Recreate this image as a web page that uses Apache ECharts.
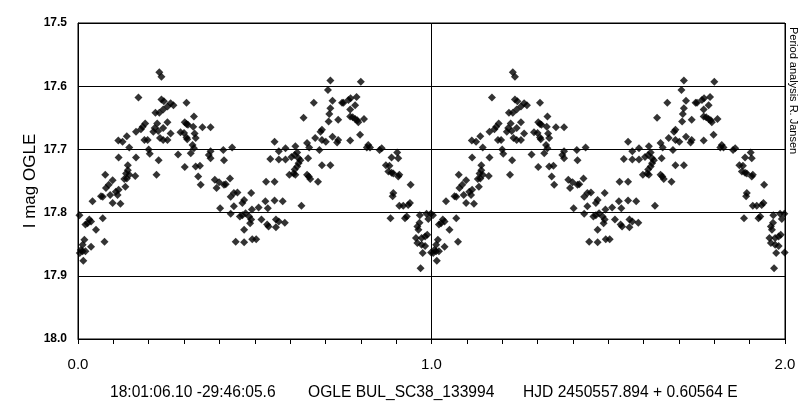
<!DOCTYPE html>
<html>
<head>
<meta charset="utf-8">
<script src="https://cdn.jsdelivr.net/npm/echarts@6/dist/echarts.min.js"></script>
<style>html,body{margin:0;padding:0;background:#fff}#c{width:812px;height:419px}</style>
</head>
<body>
<div id="c"></div>
<script>
// The reference plots the phase diagram twice (phase and phase + 1).
var phases = [
0.230,0.236,0.171,0.236,0.219,0.230,0.241,0.190,0.183,0.178,
0.164,0.224,0.217,0.213,0.227,0.241,0.138,0.114,0.126,0.241,
0.232,0.188,0.197,0.145,0.200,0.203,0.115,0.164,0.228,0.141,
0.141,0.136,0.145,0.138,0.131,0.162,0.077,0.222,0.098,0.087,
0.079,0.070,0.107,0.115,0.112,0.091,0.134,0.041,0.065,0.098,
0.120,0.004,0.032,0.027,0.021,0.037,0.070,0.051,0.075,0.018,
0.013,0.008,0.005,0.013,0.021,0.037,0.015,
0.243,0.253,0.262,0.270,0.307,0.253,0.328,0.302,0.307,0.311,
0.326,0.352,0.375,0.262,0.290,0.300,0.307,0.309,0.330,0.333,
0.253,0.324,0.328,0.283,0.319,0.375,0.370,0.375,0.411,0.436,
0.413,0.302,0.333,0.345,0.340,0.347,0.387,0.399,0.392,0.413,
0.418,0.430,0.402,0.432,0.441,0.451,0.465,0.470,0.441,0.490,
0.432,0.458,0.465,0.474,0.484,0.487,0.490,0.470,0.446,0.470,
0.493,
0.714,0.707,0.667,0.720,0.747,0.714,0.711,0.709,0.736,0.638,
0.686,0.690,0.671,0.690,0.701,0.720,0.736,0.733,0.556,0.568,
0.587,0.615,0.648,0.654,0.683,0.544,0.568,0.587,0.604,0.613,
0.620,0.624,0.629,0.624,0.620,0.613,0.610,0.598,0.615,0.651,
0.690,0.714,0.648,0.653,0.657,0.679,0.532,0.556,0.511,0.530,
0.537,0.556,0.579,0.632,0.492,0.519,0.535,0.539,0.560,0.568,
0.585,0.560,0.504,
0.800,0.751,0.765,0.771,0.788,0.784,0.770,0.770,0.777,0.784,
0.793,0.790,0.809,0.770,0.798,0.821,0.826,0.817,0.853,0.859,
0.903,0.906,0.887,0.871,0.881,0.878,0.887,0.892,0.909,0.906,
0.941,0.892,0.890,0.909,0.920,0.934,0.939,0.884,0.925,0.930,
0.967,0.986,0.998,0.991,0.966,0.960,0.963,0.956,0.972,0.982,
0.988,0.960,0.972,0.982,0.975,0.999,0.969
];
var mags = [
17.578,17.585,17.618,17.621,17.642,17.642,17.637,17.659,17.664,17.668,
17.672,17.659,17.666,17.672,17.671,17.666,17.679,17.686,17.688,17.685,
17.682,17.685,17.685,17.697,17.700,17.707,17.713,17.713,17.717,17.725,
17.733,17.738,17.740,17.746,17.747,17.742,17.740,17.740,17.749,17.756,
17.761,17.775,17.767,17.764,17.772,17.772,17.759,17.782,17.774,17.785,
17.786,17.804,17.811,17.817,17.819,17.814,17.809,17.827,17.846,17.843,
17.851,17.859,17.864,17.861,17.861,17.854,17.876,
17.624,17.632,17.627,17.630,17.626,17.657,17.648,17.657,17.660,17.661,
17.664,17.665,17.665,17.675,17.673,17.674,17.681,17.684,17.675,17.682,
17.685,17.693,17.698,17.708,17.706,17.703,17.709,17.714,17.701,17.697,
17.717,17.728,17.727,17.726,17.743,17.756,17.748,17.752,17.761,17.756,
17.755,17.746,17.793,17.775,17.769,17.768,17.785,17.780,17.790,17.769,
17.802,17.806,17.804,17.801,17.806,17.817,17.811,17.827,17.846,17.847,
17.842,
17.591,17.606,17.626,17.623,17.626,17.635,17.644,17.656,17.653,17.650,
17.672,17.669,17.682,17.685,17.688,17.680,17.685,17.689,17.688,17.703,
17.698,17.695,17.690,17.697,17.701,17.715,17.716,17.716,17.712,17.709,
17.705,17.714,17.717,17.722,17.727,17.732,17.738,17.740,17.740,17.714,
17.725,17.725,17.740,17.743,17.747,17.751,17.751,17.751,17.792,17.782,
17.793,17.781,17.782,17.789,17.795,17.811,17.819,17.822,17.811,17.814,
17.816,17.823,17.842,
17.593,17.626,17.622,17.619,17.617,17.630,17.637,17.648,17.649,17.652,
17.657,17.654,17.652,17.686,17.677,17.693,17.697,17.697,17.701,17.698,
17.705,17.714,17.713,17.725,17.726,17.735,17.737,17.738,17.740,17.743,
17.756,17.769,17.774,17.789,17.789,17.788,17.785,17.809,17.809,17.806,
17.804,17.802,17.802,17.810,17.816,17.822,17.827,17.840,17.840,17.838,
17.835,17.848,17.851,17.853,17.864,17.863,17.888
];
var cycles = [0, 1];
var xTickLabels = ['0.0', '1.0', '2.0'];
var yTickLabels = ['17.5', '17.6', '17.7', '17.8', '17.9', '18.0'];
var yTitle = 'I mag OGLE';
var sideNote = 'Period analysis R. Jansen';
var footer = ['18:01:06.10 -29:46:05.6', 'OGLE BUL_SC38_133994', 'HJD 2450557.894 + 0.60564 E'];

var pts = [];
cycles.forEach(function (c) {
  for (var i = 0; i < phases.length; i++) pts.push([phases[i] + c, mags[i]]);
});

var FONT = "'Liberation Sans', Arial, sans-serif";
var chart = echarts.init(document.getElementById('c'), null, {renderer: 'canvas'});
chart.setOption({
  animation: false,
  backgroundColor: '#fff',
  grid: {left: 78, right: 27, top: 23, bottom: 80, show: true, borderColor: '#000', borderWidth: 1, backgroundColor: 'transparent'},
  xAxis: {
    type: 'value', min: 0, max: 2, interval: 1,
    axisLine: {show: true, lineStyle: {color: '#000', width: 1}},
    axisTick: {show: true, length: 5, lineStyle: {color: '#000'}},
    minorTick: {show: true, splitNumber: 10, length: 5, lineStyle: {color: '#000'}},
    splitLine: {show: true, lineStyle: {color: '#000', width: 1}},
    axisLabel: {color: '#000', fontSize: 15, fontFamily: FONT, margin: 18,
      formatter: function (v) { return xTickLabels[Math.round(v)]; }}
  },
  yAxis: {
    type: 'value', inverse: true, min: 17.5, max: 18.0, interval: 0.1,
    axisLine: {show: true, lineStyle: {color: '#000', width: 1}},
    axisTick: {show: false},
    splitLine: {show: true, lineStyle: {color: '#000', width: 1}},
    axisLabel: {color: '#000', fontSize: 12, fontWeight: 'bold', fontFamily: FONT, margin: 11,
      formatter: function (v) { return yTickLabels[Math.round((v - 17.5) * 10)]; }}
  },
  graphic: [
    {type: 'text', x: 30, y: 181, rotation: Math.PI / 2,
     style: {text: yTitle, fill: '#000', font: '17px ' + FONT, textAlign: 'center', textVerticalAlign: 'middle'}},
    {type: 'text', x: 793, y: 27, rotation: -Math.PI / 2,
     style: {text: sideNote, fill: '#000', font: '11px ' + FONT, textAlign: 'left', textVerticalAlign: 'middle'}},
    {type: 'text', x: 110, y: 393, style: {text: footer[0], fill: '#000', font: '15.6px ' + FONT, textAlign: 'left', textVerticalAlign: 'middle'}},
    {type: 'text', x: 308, y: 393, style: {text: footer[1], fill: '#000', font: '15.6px ' + FONT, textAlign: 'left', textVerticalAlign: 'middle'}},
    {type: 'text', x: 523, y: 393, style: {text: footer[2], fill: '#000', font: '15.6px ' + FONT, textAlign: 'left', textVerticalAlign: 'middle'}}
  ],
  series: [{
    type: 'scatter', data: pts, symbol: 'diamond', symbolSize: 8,
    itemStyle: {color: '#000'}, silent: true
  }]
});
</script>
</body>
</html>
